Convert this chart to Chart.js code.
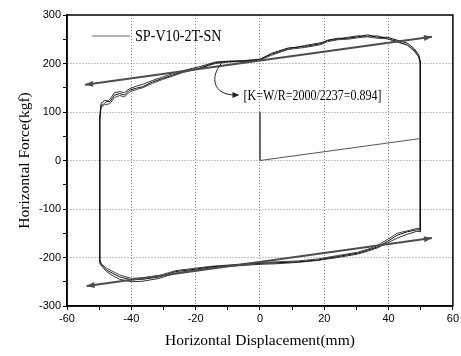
<!DOCTYPE html>
<html>
<head>
<meta charset="utf-8">
<script src="https://cdn.jsdelivr.net/npm/chart.js@4.4.0/dist/chart.umd.min.js"></script>
<style>
  html, body { margin: 0; padding: 0; background: #fff; }
  #wrap { width: 461px; height: 356px; }
</style>
</head>
<body>
<div id="wrap"><canvas id="loopChart"></canvas></div>
<script>
// displacement (mm) shared by the three recorded cycles
const loopX = [
  -49.8, -49.8, -49.4, -48.3, -46.7, -45.2, -43.6, -42.1, -40.6, -38.5,
  -36.5, -33.4, -30.3, -27.2, -24.1, -21.0, -19.0, -15.9, -13.8, -9.7,
  -5.0, 0.0, 3.6, 8.8, 13.9, 19.0, 21.0, 24.2, 27.3, 30.4,
  33.5, 36.6, 39.6, 42.7, 45.8, 47.9, 49.4, 49.9, 49.9, 48.8,
  45.8, 42.7, 39.6, 36.6, 33.5, 30.4, 24.2, 18.0, 11.9, 4.7,
  0.0, -6.6, -14.9, -20.0, -26.2, -31.3, -36.5, -40.0, -43.6, -45.7,
  -47.7, -49.3, -49.8
];
// force (kgf) for each cycle
const cycle1 = [
  -209, 87, 118, 124, 121, 135, 138, 135, 145, 149,
  152, 162, 169, 176, 183, 188, 190, 197, 202, 204,
  205, 208, 221, 232, 235, 241, 248, 252, 252, 255,
  259, 254, 254, 248, 242, 231, 218, 204, -143, -143,
  -147, -154, -167, -178, -185, -191, -198, -205, -209, -211,
  -212, -215, -219, -224, -229, -240, -245, -246, -240, -233,
  -226, -215, -209
];
const cycle2 = [
  -212, 92, 113, 118, 126, 140, 142, 140, 148, 153,
  157, 165, 172, 179, 185, 190, 193, 199, 203, 205,
  206, 209, 219, 230, 237, 243, 247, 250, 254, 257,
  256, 257, 251, 246, 238, 228, 214, 200, -147, -146,
  -152, -160, -170, -180, -187, -193, -200, -206, -210, -213,
  -214, -217, -221, -226, -232, -243, -249, -250, -245, -238,
  -229, -217, -212
];
const cycle3 = [
  -205, 80, 110, 115, 117, 130, 134, 131, 141, 146,
  150, 159, 167, 174, 181, 186, 189, 196, 200, 203,
  204, 207, 217, 229, 233, 239, 245, 249, 250, 253,
  255, 252, 251, 244, 238, 226, 213, 198, -140, -140,
  -145, -150, -163, -175, -183, -189, -196, -203, -207, -209,
  -210, -214, -218, -222, -227, -237, -242, -243, -236, -229,
  -222, -213, -205
];
// envelope arrows and the stiffness lines
const upperArrowX = [-54.4, 53.5];
const upperArrowY = [156, 255];
const lowerArrowX = [-53.9, 53.5];
const lowerArrowY = [-259, -160];
const stiffX = [0, 0, 49.6];
const stiffY = [100, 0, 45];

const seriesName = 'SP-V10-2T-SN';
const noteText = '[K=W/R=2000/2237=0.894]';

const pts = (xs, ys) => xs.map((x, i) => ({ x: x, y: ys[i] }));

const serif = "'Liberation Serif', 'Times New Roman', serif";

function arrowHead(ctx, x1, y1, x2, y2, len, half) {
  const a = Math.atan2(y2 - y1, x2 - x1);
  ctx.beginPath();
  ctx.moveTo(x2, y2);
  ctx.lineTo(x2 - len * Math.cos(a) + half * Math.sin(a), y2 - len * Math.sin(a) - half * Math.cos(a));
  ctx.lineTo(x2 - len * Math.cos(a) - half * Math.sin(a), y2 - len * Math.sin(a) + half * Math.cos(a));
  ctx.closePath();
  ctx.fill();
}

const extras = {
  id: 'extras',
  afterDatasetsDraw(chart) {
    const { ctx, chartArea: a, scales: { x, y } } = chart;
    ctx.save();

    // box round the plot
    ctx.strokeStyle = '#000';
    ctx.lineWidth = 1.5;
    ctx.strokeRect(a.left, a.top, a.right - a.left, a.bottom - a.top);

    // arrow heads on both ends of the envelope lines
    ctx.fillStyle = '#4d4d4d';
    chart.data.datasets.forEach((ds, i) => {
      if (!ds.arrows) return;
      const p = chart.getDatasetMeta(i).data;
      const p0 = p[0], p1 = p[p.length - 1];
      arrowHead(ctx, p0.x, p0.y, p1.x, p1.y, 8, 3);
      arrowHead(ctx, p1.x, p1.y, p0.x, p0.y, 8, 3);
    });

    // legend
    ctx.strokeStyle = '#666';
    ctx.lineWidth = 1;
    ctx.beginPath();
    ctx.moveTo(a.left + 25, a.top + 21);
    ctx.lineTo(a.left + 63, a.top + 21);
    ctx.stroke();
    ctx.fillStyle = '#000';
    ctx.font = '17px ' + serif;
    ctx.textBaseline = 'middle';
    ctx.save();
    ctx.translate(a.left + 68, a.top + 22);
    ctx.scale(0.83, 1);
    ctx.fillText(seriesName, 0, 0);
    ctx.restore();

    // curved pointer and the stiffness note
    const sx = x.getPixelForValue(-11.9), sy = y.getPixelForValue(201);
    const ex = x.getPixelForValue(-7.6), ey = y.getPixelForValue(135);
    ctx.strokeStyle = '#222';
    ctx.lineWidth = 1;
    ctx.beginPath();
    ctx.moveTo(sx, sy);
    ctx.bezierCurveTo(sx - 12, sy + 14, sx - 9, ey, ex, ey);
    ctx.stroke();
    ctx.fillStyle = '#222';
    arrowHead(ctx, ex - 6, ey, ex + 4, ey, 7, 3);

    ctx.fillStyle = '#000';
    ctx.font = '15px ' + serif;
    ctx.save();
    ctx.translate(x.getPixelForValue(-5.1), y.getPixelForValue(135));
    ctx.scale(0.8, 1);
    ctx.fillText(noteText, 0, 1);
    ctx.restore();

    ctx.restore();
  }
};

const gridColor = (c) => (c.tick && c.tick.value % 100 === 0 && Math.abs(c.tick.value) < 300) ? '#8a8a8a' : 'rgba(0,0,0,0)';
const gridColorX = (c) => (c.tick && c.tick.value % 20 === 0 && Math.abs(c.tick.value) < 60) ? '#8a8a8a' : 'rgba(0,0,0,0)';

new Chart(document.getElementById('loopChart'), {
  type: 'scatter',
  data: {
    datasets: [
      { label: 'upper', data: pts(upperArrowX, upperArrowY), showLine: true, arrows: true,
        borderColor: '#4d4d4d', borderWidth: 2, pointRadius: 0 },
      { label: 'lower', data: pts(lowerArrowX, lowerArrowY), showLine: true, arrows: true,
        borderColor: '#4d4d4d', borderWidth: 2, pointRadius: 0 },
      { label: 'K', data: pts(stiffX, stiffY), showLine: true,
        borderColor: '#555', borderWidth: 1, pointRadius: 0 },
      { label: seriesName, data: pts(loopX, cycle1), showLine: true,
        borderColor: '#111', borderWidth: 1, pointRadius: 0 },
      { label: seriesName + ' 2', data: pts(loopX, cycle2), showLine: true,
        borderColor: '#333', borderWidth: 1, pointRadius: 0 },
      { label: seriesName + ' 3', data: pts(loopX, cycle3), showLine: true,
        borderColor: '#444', borderWidth: 1, pointRadius: 0 }
    ]
  },
  options: {
    responsive: true,
    maintainAspectRatio: false,
    animation: false,
    layout: { padding: { top: 15, right: 5, left: 0, bottom: 0 } },
    plugins: {
      legend: { display: false },
      tooltip: { enabled: false }
    },
    scales: {
      x: {
        type: 'linear',
        min: -60,
        max: 60,
        afterFit: (s) => { s.height = 50; },
        ticks: {
          stepSize: 10,
          autoSkip: false,
          maxRotation: 0,
          padding: 2,
          color: '#000',
          font: { family: "'Liberation Sans', Arial, sans-serif", size: 11 },
          callback: (v) => (v % 20 === 0 ? v : '')
        },
        grid: { color: gridColorX, tickColor: '#000', tickLength: 4, lineWidth: 1 },
        border: { display: true, color: '#000', width: 1.5, dash: [1, 2] },
        title: {
          display: true,
          text: 'Horizontal Displacement(mm)',
          color: '#000',
          font: { family: serif, size: 15.5 },
          padding: { top: 0, bottom: 6 }
        }
      },
      y: {
        min: -300,
        max: 300,
        afterFit: (s) => { s.width = 67; },
        ticks: {
          stepSize: 50,
          autoSkip: false,
          padding: 2,
          color: '#000',
          font: { family: "'Liberation Sans', Arial, sans-serif", size: 11 },
          callback: (v) => (v % 100 === 0 ? v : '')
        },
        grid: { color: gridColor, tickColor: '#000', tickLength: 4, lineWidth: 1 },
        border: { display: true, color: '#000', width: 1.5, dash: [1, 2] },
        title: {
          display: true,
          text: 'Horizontal Force(kgf)',
          color: '#000',
          font: { family: serif, size: 15.5 },
          padding: { top: 16, bottom: 0 }
        }
      }
    }
  },
  plugins: [extras]
});
</script>
</body>
</html>
